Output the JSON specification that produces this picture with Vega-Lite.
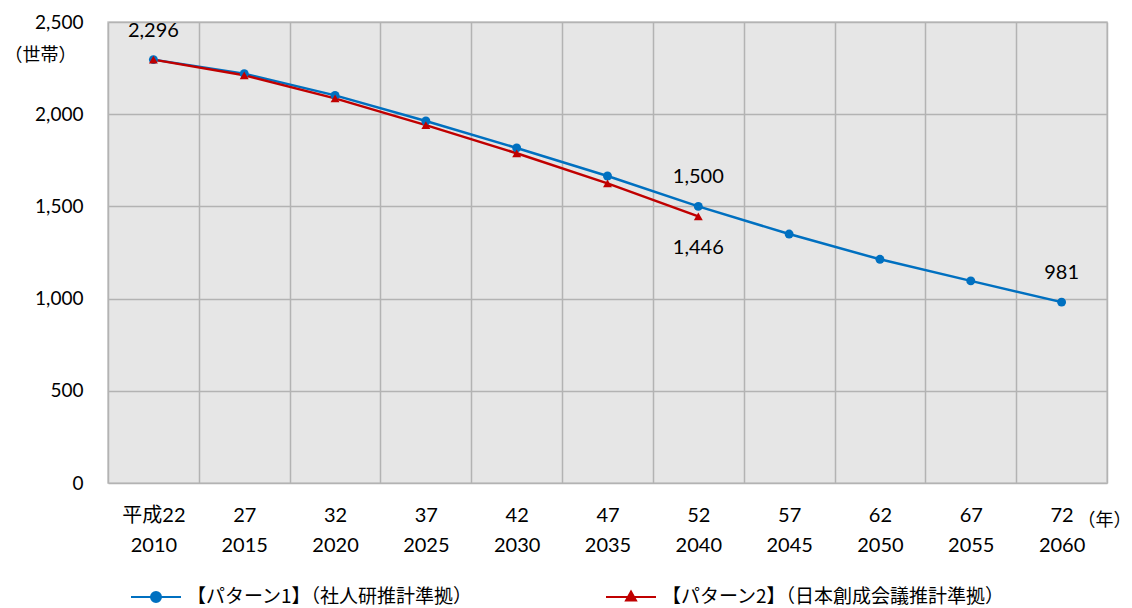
{
  "$schema": "https://vega.github.io/schema/vega-lite/v6.json",
  "width": 999,
  "height": 461,
  "autosize": {"type": "none"},
  "padding": {"left": 108, "top": 22, "right": 25, "bottom": 125},
  "background": "#ffffff",
  "config": {
    "font": "Lato, 'Noto Sans CJK JP'",
    "view": {"fill": "#E6E6E6", "stroke": "#C8C8C8", "strokeWidth": 1.5},
    "axis": {
      "labelFont": "Lato, 'Noto Sans CJK JP'",
      "labelColor": "#000000",
      "labelFontSize": 20,
      "titleFont": "Lato, 'Noto Sans CJK JP'",
      "titleColor": "#000000",
      "titleFontSize": 18,
      "titleFontWeight": "normal",
      "gridColor": "#B3B3B3",
      "gridWidth": 1.5,
      "gridOpacity": 1,
      "ticks": false,
      "tickSize": 0,
      "domain": false
    }
  },
  "data": {
    "values": [
      {"year": 2010, "series": "【パターン1】（社人研推計準拠）", "households": 2296},
      {"year": 2015, "series": "【パターン1】（社人研推計準拠）", "households": 2220},
      {"year": 2020, "series": "【パターン1】（社人研推計準拠）", "households": 2102},
      {"year": 2025, "series": "【パターン1】（社人研推計準拠）", "households": 1963},
      {"year": 2030, "series": "【パターン1】（社人研推計準拠）", "households": 1817},
      {"year": 2035, "series": "【パターン1】（社人研推計準拠）", "households": 1665},
      {"year": 2040, "series": "【パターン1】（社人研推計準拠）", "households": 1500},
      {"year": 2045, "series": "【パターン1】（社人研推計準拠）", "households": 1350},
      {"year": 2050, "series": "【パターン1】（社人研推計準拠）", "households": 1213},
      {"year": 2055, "series": "【パターン1】（社人研推計準拠）", "households": 1096},
      {"year": 2060, "series": "【パターン1】（社人研推計準拠）", "households": 981},
      {"year": 2010, "series": "【パターン2】（日本創成会議推計準拠）", "households": 2296},
      {"year": 2015, "series": "【パターン2】（日本創成会議推計準拠）", "households": 2211},
      {"year": 2020, "series": "【パターン2】（日本創成会議推計準拠）", "households": 2086},
      {"year": 2025, "series": "【パターン2】（日本創成会議推計準拠）", "households": 1941},
      {"year": 2030, "series": "【パターン2】（日本創成会議推計準拠）", "households": 1788},
      {"year": 2035, "series": "【パターン2】（日本創成会議推計準拠）", "households": 1625},
      {"year": 2040, "series": "【パターン2】（日本創成会議推計準拠）", "households": 1446}
    ]
  },
  "encoding": {
    "x": {
      "field": "year",
      "type": "ordinal",
      "sort": null,
      "scale": {"type": "band", "paddingInner": 0, "paddingOuter": 0},
      "axis": {
        "title": "（年）",
        "titleAngle": 0,
        "titleX": 1023,
        "titleY": 37,
        "titleAlign": "right",
        "titleBaseline": "middle",
        "labelAngle": 0,
        "labelBaseline": "top",
        "labelPadding": 22,
        "labelLineHeight": 30,
        "labelExpr": "isValid(datum.value) ? [(datum.value == 2010 ? '平成' : '') + (datum.value - 1988), '' + datum.value] : ''",
        "grid": true,
        "tickBand": "extent"
      }
    },
    "y": {
      "field": "households",
      "type": "quantitative",
      "scale": {"domain": [0, 2500], "nice": false},
      "axis": {
        "title": "（世帯）",
        "titleAngle": 0,
        "titleX": -104,
        "titleY": 33,
        "titleAlign": "left",
        "titleBaseline": "middle",
        "values": [0, 500, 1000, 1500, 2000, 2500],
        "format": ",.0f",
        "labelFontSize": 19,
        "labelPadding": 25,
        "grid": true
      }
    },
    "color": {
      "field": "series",
      "type": "nominal",
      "scale": {
        "domain": ["【パターン1】（社人研推計準拠）", "【パターン2】（日本創成会議推計準拠）"],
        "range": ["#0070C0", "#C00000"]
      }
    }
  },
  "layer": [
    {
      "mark": {"type": "line", "strokeWidth": 2.5},
      "encoding": {
        "color": {
          "field": "series",
          "type": "nominal",
          "legend": {
            "title": null,
            "orient": "none",
            "legendX": 22,
            "legendY": 549,
            "direction": "horizontal",
            "padding": 0,
            "columnPadding": 128,
            "labelFont": "'Noto Sans CJK JP'",
            "labelFontSize": 19,
            "labelColor": "#000000",
            "labelOffset": 5,
            "labelLimit": 500,
            "symbolSize": 2500,
            "symbolStrokeWidth": 2,
            "encode": {
              "symbols": {
                "update": {
                  "shape": {"signal": "indexof(datum.value, 'パターン1') >= 0 ? 'M-1,0L1,0M0.2,0A0.2,0.2,0,1,1,-0.2,0A0.2,0.2,0,1,1,0.2,0Z' : 'M-1,0L1,0M0,-0.22L0.2,0.14L-0.2,0.14Z'"},
                  "fill": {"signal": "indexof(datum.value, 'パターン1') >= 0 ? '#0070C0' : '#C00000'"},
                  "stroke": {"signal": "indexof(datum.value, 'パターン1') >= 0 ? '#0070C0' : '#C00000'"},
                  "fillOpacity": {"value": 1},
                  "strokeWidth": {"value": 2}
                }
              }
            }
          }
        }
      }
    },
    {
      "mark": {"type": "point", "filled": true, "opacity": 1, "size": 80},
      "encoding": {
        "shape": {
          "condition": {"test": "indexof(datum.series, 'パターン1') >= 0", "value": "circle"},
          "value": "triangle-up"
        },
        "color": {"field": "series", "type": "nominal", "legend": null}
      }
    },
    {
      "transform": [
        {"filter": "indexof(datum.series, 'パターン1') >= 0 && (datum.year == 2010 || datum.year == 2040 || datum.year == 2060)"}
      ],
      "mark": {"type": "text", "dy": -29, "fontSize": 20, "font": "Lato", "color": "#000000"},
      "encoding": {
        "text": {"field": "households", "type": "quantitative", "format": ","},
        "color": {"value": "#000000"}
      }
    },
    {
      "transform": [
        {"filter": "indexof(datum.series, 'パターン2') >= 0 && datum.year == 2040"}
      ],
      "mark": {"type": "text", "dy": 32, "fontSize": 20, "font": "Lato", "color": "#000000"},
      "encoding": {
        "text": {"field": "households", "type": "quantitative", "format": ","},
        "color": {"value": "#000000"}
      }
    }
  ]
}
